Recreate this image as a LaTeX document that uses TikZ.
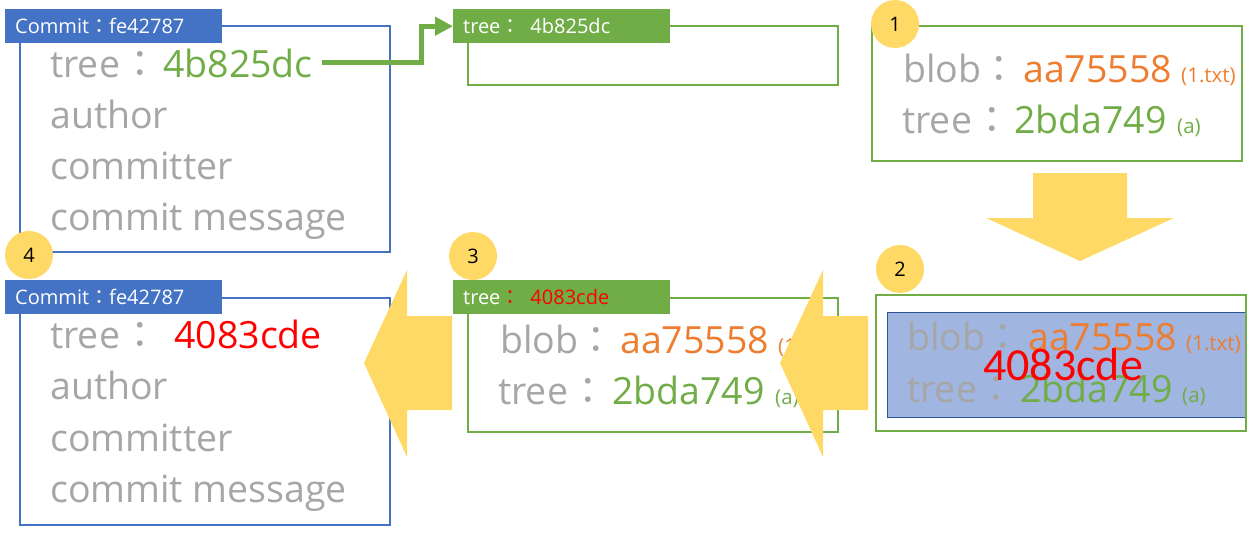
\documentclass[tikz,border=0pt]{standalone}
\usepackage{fontspec}
\setmainfont{Open Sans}
\newfontfamily\cjkfont{Noto Sans CJK TC}
\newfontfamily\calfont{Carlito}
\usetikzlibrary{arrows.meta}
\definecolor{gitblue}{HTML}{4472C4}
\definecolor{gitgreen}{HTML}{70AD47}
\definecolor{gitorange}{HTML}{ED7D31}
\definecolor{gitgray}{HTML}{A6A6A6}
\definecolor{gityellow}{HTML}{FFD966}
\definecolor{shadeblue}{HTML}{A0B5E0}
\definecolor{edgeblue}{HTML}{2F5597}
\newcommand{\fw}{{\cjkfont ：}}
\newcommand{\bigfs}{\fontsize{37.5}{40}\selectfont}
\newcommand{\midfs}{\fontsize{20}{22}\selectfont}
\newcommand{\smallfs}{\fontsize{20.5}{22}\selectfont}

\begin{document}
\begin{tikzpicture}[x=1pt,y=-1pt,
  boxline/.style={line width=1.5pt},
  hdr/.style={anchor=north west,text=white,font=\midfs,minimum height=34pt,
    text width=197pt,align=left,inner xsep=10pt,inner ysep=0pt},
  fieldtxt/.style={anchor=base west,inner sep=0pt,font=\bigfs,text=gitgray},
  colontxt/.style={anchor=base,inner sep=0pt,font=\bigfs\cjkfont,text=gitgray},
  notetxt/.style={anchor=base west,inner sep=0pt,font=\smallfs},
  badge/.style={circle,fill=gityellow,minimum size=48pt,inner sep=0pt,
    font=\fontsize{20}{22}\selectfont}]
\useasboundingbox (0,0) rectangle (1258,541);

% frames
\draw[boxline,gitblue] (20,26) rectangle (390,252);
\draw[boxline,gitgreen] (468,26) rectangle (838,85);
\draw[boxline,gitgreen] (872,26) rectangle (1242,161);
\fill[shadeblue,draw=edgeblue,line width=0.8pt] (887,312) rectangle (1245,417);
\draw[boxline,gitgreen] (876,295) rectangle (1246,431);
\draw[boxline,gitgreen] (468,298) rectangle (838,432);
\draw[boxline,gitblue] (20,298) rectangle (390,525);

% headers
\node[hdr,fill=gitblue] (headA) at (5,9) {Commit\fw fe42787};
\node[hdr,fill=gitgreen] (headB) at (453,9) {tree\fw\hspace{10pt}4b825dc};
\node[hdr,fill=gitgreen] (headC) at (453,280) {tree\textcolor{red}{\fw\hspace{10pt}4083cde}};
\node[hdr,fill=gitblue] (headD) at (5,280) {Commit\fw fe42787};

% first commit
\node[fieldtxt] (treeA) at (50,77) {tree};
\node[colontxt] (colA) at (140,77) {：};
\node[fieldtxt,text=gitgreen] (hashA) at (163,77) {4b825dc};
\foreach \txt/\yy [count=\i] in {author/128,committer/179,commit message/230}
  \node[fieldtxt] (fieldA\i) at (50,\yy) {\txt};

\draw[gitgreen,line width=5pt,-{Triangle[length=18pt,width=18pt]}]
  ([xshift=9pt]hashA.east) -| ([xshift=-32pt]headB.west) -- (headB.west);

% step 1
\node[fieldtxt] (blob1) at (903,82) {blob};
\node[colontxt] (colb1) at (999,82) {：};
\node[fieldtxt,text=gitorange] (hashb1) at (1023,82) {aa75558};
\node[notetxt,text=gitorange] (nameb1) at (1181,82) {(1.txt)};
\node[fieldtxt] (tree1) at (902,133) {tree};
\node[colontxt] (colt1) at (992,133) {：};
\node[fieldtxt,text=gitgreen] (hasht1) at (1014,133) {2bda749};
\node[notetxt,text=gitgreen] (namet1) at (1177,133) {(a)};

% step 2
\node[fieldtxt] (blob2) at (907,350) {blob};
\node[colontxt] (colb2) at (1003,350) {：};
\node[fieldtxt,text=gitorange] (hashb2) at (1028,350) {aa75558};
\node[notetxt,text=gitorange] (nameb2) at (1186,350) {(1.txt)};
\node[fieldtxt] (tree2) at (907,402) {tree};
\node[colontxt] (colt2) at (996,402) {：};
\node[fieldtxt,text=gitgreen] (hasht2) at (1020,402) {2bda749};
\node[notetxt,text=gitgreen] (namet2) at (1182,402) {(a)};
\node[anchor=base,inner sep=0pt,text=red,font=\fontsize{46}{50}\selectfont\calfont]
  (newhash) at (1063,380) {4083cde};

% step 3
\node[fieldtxt] (blob3) at (500,353) {blob};
\node[colontxt] (colb3) at (596,353) {：};
\node[fieldtxt,text=gitorange] (hashb3) at (620,353) {aa75558};
\node[notetxt,text=gitorange] (nameb3) at (778,353) {(1.txt)};
\node[fieldtxt] (tree3) at (498,404) {tree};
\node[colontxt] (colt3) at (588,404) {：};
\node[fieldtxt,text=gitgreen] (hasht3) at (612,404) {2bda749};
\node[notetxt,text=gitgreen] (namet3) at (775,404) {(a)};

% step 4
\node[fieldtxt] (treeD) at (50,348) {tree};
\node[colontxt] (colD) at (140,348) {：};
\node[fieldtxt,text=red] (hashD) at (174,348) {4083cde};
\foreach \txt/\yy [count=\i] in {author/399,committer/451,commit message/502}
  \node[fieldtxt] (fieldD\i) at (50,\yy) {\txt};

% big arrows
\fill[gityellow] (1033,173) -- (1127,173) -- (1127,218) -- (1174,218) -- (1080,261)
  -- (986,218) -- (1033,218) -- cycle;
\fill[gityellow] (868,316) -- (823,316) -- (823,270) -- (780,363) -- (823,457)
  -- (823,410) -- (868,410) -- cycle;
\fill[gityellow] (452,316) -- (407,316) -- (407,270) -- (364,363) -- (407,457)
  -- (407,410) -- (452,410) -- cycle;

% step numbers
\node[badge] (num1) at (895,24) {1};
\node[badge] (num2) at (900,269) {2};
\node[badge] (num3) at (473,256) {3};
\node[badge] (num4) at (29,255) {4};
\end{tikzpicture}
\end{document}
